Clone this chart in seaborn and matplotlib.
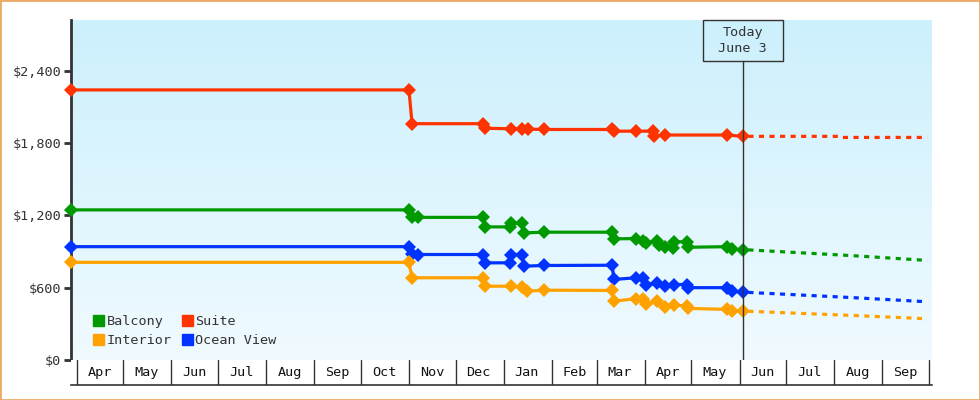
import numpy as np
import pandas as pd
import matplotlib
matplotlib.use('Agg')
import matplotlib.pyplot as plt
import matplotlib.dates as mdates
import matplotlib.transforms as mtransforms
from matplotlib.colors import LinearSegmentedColormap
from matplotlib.patches import Patch, Rectangle
import seaborn as sns

# --- price history ---
suite_dates = ['2023-03-28', '2023-11-01', '2023-11-03', '2023-12-19', '2023-12-20',
               '2024-01-06', '2024-01-13', '2024-01-17', '2024-01-27', '2024-03-11',
               '2024-03-12', '2024-03-26', '2024-04-06', '2024-04-07', '2024-04-14',
               '2024-05-24', '2024-06-03']
suite_prices = [2240, 2240, 1960, 1960, 1922, 1918, 1918, 1915, 1912, 1912,
                1898, 1898, 1898, 1857, 1866, 1866, 1855]

balcony_dates = ['2023-03-28', '2023-11-01', '2023-11-03', '2023-11-07', '2023-12-19',
                 '2023-12-20', '2024-01-05', '2024-01-06', '2024-01-13', '2024-01-14',
                 '2024-01-27', '2024-03-11', '2024-03-12', '2024-03-26', '2024-03-31',
                 '2024-04-02', '2024-04-09', '2024-04-10', '2024-04-14', '2024-04-19',
                 '2024-04-20', '2024-04-28', '2024-04-29', '2024-05-24', '2024-05-27',
                 '2024-06-03']
balcony_prices = [1245, 1245, 1190, 1183, 1183, 1104, 1104, 1135, 1135, 1054,
                  1060, 1060, 1005, 1007, 991, 972, 985, 952, 935, 925,
                  980, 980, 935, 940, 918, 916]

ocean_dates = ['2023-03-28', '2023-11-01', '2023-11-03', '2023-11-07', '2023-12-19',
               '2023-12-20', '2024-01-05', '2024-01-06', '2024-01-13', '2024-01-14',
               '2024-01-27', '2024-03-11', '2024-03-12', '2024-03-26', '2024-03-31',
               '2024-04-02', '2024-04-09', '2024-04-14', '2024-04-20', '2024-04-28',
               '2024-04-29', '2024-05-24', '2024-05-27', '2024-06-03']
ocean_prices = [940, 940, 881, 875, 875, 806, 806, 875, 875, 778,
                784, 786, 668, 682, 682, 626, 640, 612, 626, 626,
                600, 600, 570, 563]

interior_dates = ['2023-03-28', '2023-11-01', '2023-11-03', '2023-12-19', '2023-12-20',
                  '2024-01-06', '2024-01-13', '2024-01-16', '2024-01-27', '2024-03-11',
                  '2024-03-12', '2024-03-26', '2024-03-31', '2024-04-02', '2024-04-09',
                  '2024-04-14', '2024-04-20', '2024-04-28', '2024-04-29', '2024-05-24',
                  '2024-05-27', '2024-06-03']
interior_prices = [810, 810, 682, 682, 612, 612, 604, 571, 579, 577,
                   488, 508, 508, 461, 488, 439, 455, 447, 428, 420,
                   410, 406]

# --- forecast (dotted) ---
suite_fc_dates = ['2024-06-03', '2024-08-04', '2024-08-05', '2024-09-30']
suite_fc_prices = [1855, 1855, 1846, 1846]
balcony_fc_dates = ['2024-06-03', '2024-08-12', '2024-09-30']
balcony_fc_prices = [916, 866, 826]
ocean_fc_dates = ['2024-06-03', '2024-08-12', '2024-09-30']
ocean_fc_prices = [563, 518, 483]
interior_fc_dates = ['2024-06-03', '2024-08-12', '2024-09-30']
interior_fc_prices = [406, 370, 342]

series_names = ['Balcony', 'Interior', 'Suite', 'Ocean View']
colors = {'Balcony': '#009900', 'Interior': '#FFA200',
          'Suite': '#FF3300', 'Ocean View': '#0033FF'}

today = pd.Timestamp('2024-06-03')
x_start = pd.Timestamp('2023-03-28 06:00')
x_end = pd.Timestamp('2024-10-03')
y_top = 2820
yticks = [0, 600, 1200, 1800, 2400]

sns.set_style('white')
plt.rcParams['font.family'] = ['DejaVu Sans Mono', 'DejaVu Sans']
FS = 9.7
INK = '#333333'

fig = plt.figure(figsize=(9.8, 4), dpi=100)
ax = fig.add_axes([71 / 980, 40 / 400, 861 / 980, 340 / 400])
ax_m = fig.add_axes([71 / 980, 15 / 400, 861 / 980, 25 / 400])

# gradient background
bg = LinearSegmentedColormap.from_list('bg', ['#CCF0FC', '#F0FAFF'])
grad = np.linspace(0, 1, 256).reshape(-1, 1)
ax.imshow(grad, cmap=bg, aspect='auto', origin='upper', zorder=0,
          extent=[mdates.date2num(x_start), mdates.date2num(x_end), 0, y_top])

history = {
    'Suite': (suite_dates, suite_prices, suite_fc_dates, suite_fc_prices),
    'Balcony': (balcony_dates, balcony_prices, balcony_fc_dates, balcony_fc_prices),
    'Ocean View': (ocean_dates, ocean_prices, ocean_fc_dates, ocean_fc_prices),
    'Interior': (interior_dates, interior_prices, interior_fc_dates, interior_fc_prices),
}

for name, (d, p, fd, fp) in history.items():
    df = pd.DataFrame({'date': pd.to_datetime(d), 'price': p})
    sns.lineplot(data=df, x='date', y='price', ax=ax, color=colors[name],
                 lw=2.3, marker='D', markersize=7, markeredgewidth=0,
                 estimator=None, sort=False, legend=False, clip_on=False, zorder=3)
    fc = pd.DataFrame({'date': pd.to_datetime(fd), 'price': fp})
    sns.lineplot(data=fc, x='date', y='price', ax=ax, color=colors[name],
                 lw=2.3, linestyle=(1.5, (1.6, 1.7)), estimator=None,
                 sort=False, legend=False, zorder=2)

ax.set_xlim(x_start, x_end)
ax.set_ylim(0, y_top)
ax.set_xlabel('')
ax.set_ylabel('')
ax.set_yticks(yticks)
ax.set_yticklabels([f'${v:,}' for v in yticks])
ax.tick_params(axis='y', length=5, width=2, color=INK, labelsize=FS,
               labelcolor=INK, pad=2, left=True)
ax.tick_params(axis='x', bottom=False, labelbottom=False)
for s in ['top', 'right', 'bottom']:
    ax.spines[s].set_visible(False)
ax.spines['left'].set_color(INK)
ax.spines['left'].set_linewidth(2)

# legend
handles = [Patch(color=colors[n], label=n) for n in series_names]
ax.legend(handles=handles, ncol=2, loc='lower left', frameon=False,
          bbox_to_anchor=(0.018, 0.018), fontsize=FS, handlelength=0.8,
          handleheight=0.8, handletextpad=0.2, columnspacing=0.75,
          labelspacing=0.45, borderpad=0, labelcolor=INK)

# month boxes under the plot
ax_m.set_xlim(x_start, x_end)
ax_m.set_ylim(0, 1)
ax_m.set_facecolor('white')
ax_m.set_xticks([])
ax_m.set_yticks([])
for s in ['top', 'right', 'left']:
    ax_m.spines[s].set_visible(False)
ax_m.spines['bottom'].set_color(INK)
ax_m.spines['bottom'].set_linewidth(1.2)
month_starts = pd.date_range('2023-04-01', '2024-10-01', freq='MS')
for m in month_starts:
    ax_m.axvline(m, color=INK, lw=1)
for m in month_starts[:-1]:
    ax_m.text(m + pd.Timedelta(days=15), 0.5, m.strftime('%b'), ha='center',
              va='center', fontsize=FS, color='#111111')

# today marker
box_h, box_w = 41, 80
ax.axvline(today, ymax=1 - box_h / 340, color=INK, lw=1, zorder=4)
fig.canvas.draw()
x_px = ax.transData.transform((mdates.date2num(today), 0))[0]
top_px = ax.get_window_extent().y1
ident = mtransforms.IdentityTransform()
fig.add_artist(Rectangle((x_px - box_w / 2, top_px - box_h), box_w, box_h,
                         transform=ident, fill=False, edgecolor=INK, lw=1))
fig.text(x_px, top_px - box_h / 2, 'Today\nJune 3', transform=ident,
         ha='center', va='center', fontsize=FS, color=INK, linespacing=1.35)

# outer frame
fig.add_artist(Rectangle((0, 0), 1, 1, transform=fig.transFigure, fill=False,
                         edgecolor='#EBAA66', lw=2))

fig.savefig('out.png', dpi=100)
